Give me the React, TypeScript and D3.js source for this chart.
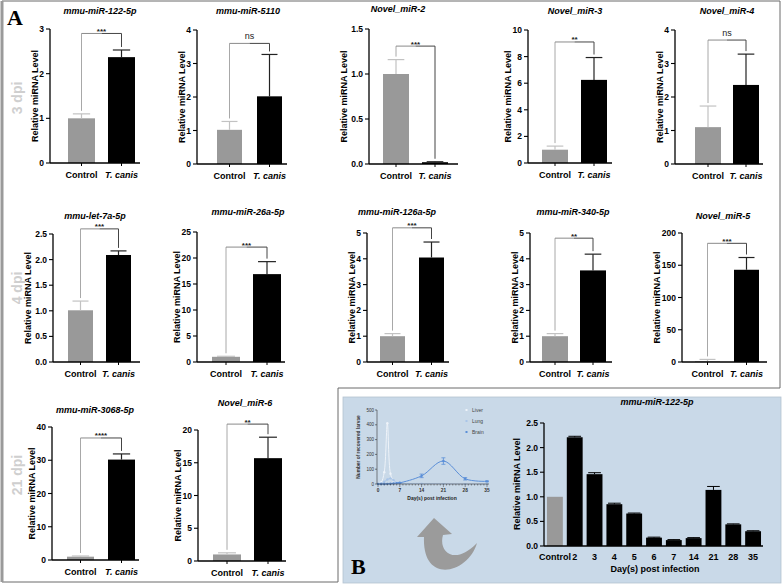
import React from 'react';
import * as d3 from 'd3';

const groups = ['Control', 'T. canis'];

// 3 dpi row
const dpi3Titles = ['mmu-miR-122-5p', 'mmu-miR-5110', 'Novel_miR-2', 'Novel_miR-3', 'Novel_miR-4'];
const dpi3Means = [[1.0, 2.37], [1.02, 2.02], [1.0, 0.02], [1.0, 6.25], [1.1, 2.36]];
const dpi3Errs = [[0.1, 0.16], [0.25, 1.25], [0.16, 0.005], [0.27, 1.68], [0.63, 0.92]];
const dpi3Max = [3, 4, 1.5, 10, 4];
const dpi3Tick = [1, 1, 0.5, 2, 1];
const dpi3Sig = ['***', 'ns', '***', '**', 'ns'];
const dpi3SigAt = [2.9, 3.6, 1.31, 9.1, 3.7];

// 4 dpi row
const dpi4Titles = ['mmu-let-7a-5p', 'mmu-miR-26a-5p', 'mmu-miR-126a-5p', 'mmu-miR-340-5p', 'Novel_miR-5'];
const dpi4Means = [[1.01, 2.09], [1.0, 16.9], [1.0, 4.05], [1.0, 3.55], [1.0, 143]];
const dpi4Errs = [[0.18, 0.08], [0.1, 2.4], [0.1, 0.6], [0.1, 0.63], [3, 19]];
const dpi4Max = [2.5, 25, 5, 5, 200];
const dpi4Tick = [0.5, 5, 1, 1, 50];
const dpi4Sig = ['***', '***', '***', '**', '***'];
const dpi4SigAt = [2.6, 22.1, 5.2, 4.8, 184];

// 21 dpi row
const dpi21Titles = ['mmu-miR-3068-5p', 'Novel_miR-6'];
const dpi21Means = [[1.0, 30.2], [1.0, 15.7]];
const dpi21Errs = [[0.2, 1.7], [0.25, 3.2]];
const dpi21Max = [40, 20];
const dpi21Tick = [10, 5];
const dpi21Sig = ['****', '**'];
const dpi21SigAt = [36.7, 20.9];

// panel B time course
const dayLabels = ['Control', '2', '3', '4', '5', '6', '7', '14', '21', '28', '35'];
const dayMeans = [1.0, 2.21, 1.46, 0.85, 0.66, 0.17, 0.12, 0.16, 1.14, 0.44, 0.3];
const dayErrs = [0, 0.02, 0.03, 0.02, 0.01, 0.01, 0.01, 0.01, 0.07, 0.01, 0.01];

// inset: recovered larvae
const larvaDays = [0, 1, 2, 3, 4, 5, 6, 7, 14, 21, 28, 35];
const liverLarvae = [0, 10, 80, 410, 70, 20, 8, 3, 1, 0, 0, 0];
const lungLarvae = [0, 3, 15, 30, 38, 25, 8, 4, 2, 1, 0, 0];
const brainLarvae = [0, 0, 0, 1, 2, 4, 6, 8, 55, 155, 35, 18];
const brainErr = [0, 0, 0, 0, 0, 0, 0, 2, 12, 22, 8, 3];
const organs = ['Liver', 'Lung', 'Brain'];

const FONT = "'Liberation Sans', Arial, sans-serif";

type Layout = { x: number; top: number; bottom: number; pad: number; bw: number; step: number; w: number; tx: number; ty: number };

const layout3: Layout[] = [
  { x: 50, top: 29, bottom: 163, pad: 18, bw: 27, step: 40, w: 90, tx: 100, ty: 14 },
  { x: 197, top: 30, bottom: 164, pad: 20, bw: 25, step: 40, w: 90, tx: 248, ty: 14 },
  { x: 369, top: 29, bottom: 164, pad: 14, bw: 26, step: 39, w: 89, tx: 398, ty: 12 },
  { x: 528, top: 30, bottom: 163, pad: 14, bw: 26, step: 39, w: 84, tx: 575, ty: 14 },
  { x: 675, top: 30, bottom: 164, pad: 20, bw: 26, step: 38, w: 88, tx: 727, ty: 14 },
];
const layout4: Layout[] = [
  { x: 53, top: 234, bottom: 362, pad: 15, bw: 25, step: 38, w: 87, tx: 95, ty: 219 },
  { x: 197, top: 232, bottom: 362, pad: 15, bw: 28, step: 41, w: 88, tx: 248, ty: 215 },
  { x: 367, top: 233, bottom: 362, pad: 13, bw: 25, step: 39, w: 82, tx: 397, ty: 215 },
  { x: 530, top: 233, bottom: 362, pad: 12, bw: 26, step: 38, w: 82, tx: 573, ty: 215 },
  { x: 682, top: 233, bottom: 362, pad: 13, bw: 25, step: 39, w: 85, tx: 723, ty: 219 },
];
const layout21: Layout[] = [
  { x: 52, top: 427, bottom: 560, pad: 15, bw: 27, step: 41, w: 87, tx: 95, ty: 413 },
  { x: 198, top: 430, bottom: 561, pad: 15, bw: 28, step: 41, w: 88, tx: 245, ty: 406 },
];

function BarPanel(props: { title: string; mean: number[]; err: number[]; max: number; tick: number; sig: string; sigAt: number; L: Layout }) {
  const { title, mean, err, max, tick, sig, sigAt, L } = props;
  const y = d3.scaleLinear().domain([0, max]).range([L.bottom, L.top]);
  const x = d3.scaleBand().domain(groups)
    .range([L.x + L.pad, L.x + L.pad + L.step + L.bw])
    .paddingInner(1 - L.bw / L.step).paddingOuter(0);
  const ticks = d3.range(0, max + tick / 2, tick);
  const fmt = tick < 1 ? d3.format('.1f') : d3.format('d');
  const chars = d3.max(ticks, t => fmt(t).length) || 1;
  const labelX = L.x - (chars * 5 + 7);
  const bw = x.bandwidth();
  const cx = (g: string) => (x(g) || 0) + bw / 2;
  const sy = y(sigAt);
  const legEnd = (i: number) => y(mean[i] + err[i]) - 3;
  const mid = (cx(groups[0]) + cx(groups[1])) / 2;
  const isNs = sig === 'ns';

  return (
    <g fontFamily={FONT}>
      <text x={L.tx} y={L.ty} textAnchor="middle" fontSize={9} fontWeight="bold" fontStyle="italic">{title}</text>
      {groups.map((g, i) => (
        <g key={g}>
          <rect x={x(g)} y={y(mean[i])} width={bw} height={L.bottom - y(mean[i])} fill={i === 0 ? '#999999' : '#000'} />
          <line x1={cx(g)} x2={cx(g)} y1={y(mean[i])} y2={y(mean[i] + err[i])} stroke={i === 0 ? '#c2c2c2' : '#222'} strokeWidth={1.2} />
          <line x1={cx(g) - bw * 0.32} x2={cx(g) + bw * 0.32} y1={y(mean[i] + err[i])} y2={y(mean[i] + err[i])} stroke={i === 0 ? '#c2c2c2' : '#222'} strokeWidth={1.2} />
          <line x1={cx(g)} x2={cx(g)} y1={L.bottom} y2={L.bottom + 3} stroke="#000" strokeWidth={1} />
          <text x={cx(g)} y={L.bottom + 15} textAnchor="middle" fontSize={9} fontWeight="bold" fontStyle={i === 1 ? 'italic' : 'normal'}>{g}</text>
        </g>
      ))}
      <line x1={L.x} x2={L.x} y1={L.top} y2={L.bottom} stroke="#000" strokeWidth={1.3} />
      <line x1={L.x} x2={L.x + L.w} y1={L.bottom} y2={L.bottom} stroke="#000" strokeWidth={1.3} />
      {ticks.map(t => (
        <g key={t}>
          <line x1={L.x - 4} x2={L.x} y1={y(t)} y2={y(t)} stroke="#000" strokeWidth={1.1} />
          <text x={L.x - 6} y={y(t) + 3} textAnchor="end" fontSize={8.5} fontWeight="bold">{fmt(t)}</text>
        </g>
      ))}
      <text transform={`translate(${labelX},${(L.top + L.bottom) / 2}) rotate(-90)`} textAnchor="middle" fontSize={9} fontWeight="bold">Relative miRNA Level</text>
      <line x1={cx(groups[0])} x2={cx(groups[0])} y1={sy} y2={legEnd(0)} stroke="#a8a8a8" strokeWidth={1} />
      <line x1={cx(groups[0])} x2={mid} y1={sy} y2={sy} stroke="#8a8a8a" strokeWidth={1} />
      <line x1={mid} x2={cx(groups[1])} y1={sy} y2={sy} stroke="#444" strokeWidth={1} />
      <line x1={cx(groups[1])} x2={cx(groups[1])} y1={sy} y2={legEnd(1)} stroke="#444" strokeWidth={1} />
      <text x={mid} y={isNs ? sy - 4 : sy + 0.5} textAnchor="middle" fontSize={isNs ? 9 : 8} fontWeight={isNs ? 'normal' : 'bold'} fill="#222">{sig}</text>
    </g>
  );
}

function TimeCourse() {
  const x = d3.scaleBand().domain(dayLabels).range([545, 763]).paddingInner(0.2).paddingOuter(0.1);
  const y = d3.scaleLinear().domain([0, 2.5]).range([546, 423]);
  const ticks = d3.range(0, 2.51, 0.5);
  const bw = x.bandwidth();
  return (
    <g fontFamily={FONT}>
      <text x={657} y={405} textAnchor="middle" fontSize={9} fontWeight="bold" fontStyle="italic">mmu-miR-122-5p</text>
      {dayLabels.map((d, i) => {
        const cx = (x(d) || 0) + bw / 2;
        return (
          <g key={d}>
            <rect x={x(d)} y={y(dayMeans[i])} width={bw} height={546 - y(dayMeans[i])} fill={i === 0 ? '#999999' : '#000'} />
            {dayErrs[i] > 0 && (
              <g stroke="#000" strokeWidth={1}>
                <line x1={cx} x2={cx} y1={y(dayMeans[i])} y2={y(dayMeans[i] + dayErrs[i])} />
                <line x1={cx - bw * 0.4} x2={cx + bw * 0.4} y1={y(dayMeans[i] + dayErrs[i])} y2={y(dayMeans[i] + dayErrs[i])} />
              </g>
            )}
            <text x={cx} y={560} textAnchor="middle" fontSize={9} fontWeight="bold">{d}</text>
          </g>
        );
      })}
      <line x1={544} x2={544} y1={423} y2={546} stroke="#000" strokeWidth={1.3} />
      <line x1={544} x2={763} y1={546} y2={546} stroke="#000" strokeWidth={1.3} />
      {ticks.map(t => (
        <g key={t}>
          <line x1={540} x2={544} y1={y(t)} y2={y(t)} stroke="#000" strokeWidth={1.1} />
          <text x={538} y={y(t) + 3} textAnchor="end" fontSize={8.5} fontWeight="bold">{d3.format('.1f')(t)}</text>
        </g>
      ))}
      <text transform="translate(520,484) rotate(-90)" textAnchor="middle" fontSize={9} fontWeight="bold">Relative miRNA Level</text>
      <text x={655} y={572} textAnchor="middle" fontSize={9} fontWeight="bold">Day(s)  post infection</text>
    </g>
  );
}

function Inset() {
  const x = d3.scaleLinear().domain([0, 35]).range([378, 487]);
  const y = d3.scaleLinear().domain([0, 500]).range([484, 410]);
  const line = d3.line<number>().x((_, i) => x(larvaDays[i])).y(v => y(v)).curve(d3.curveCatmullRom);
  const series = [liverLarvae, lungLarvae, brainLarvae];
  const colors = ['#eef3f9', '#a9c5e8', '#5b8fd8'];
  return (
    <g fontFamily={FONT}>
      {series.map((s, k) => (
        <g key={k}>
          <path d={line(s) || ''} fill="none" stroke={colors[k]} strokeWidth={1} />
          {s.map((v, i) => <circle key={i} cx={x(larvaDays[i])} cy={y(v)} r={1.2} fill={colors[k]} />)}
        </g>
      ))}
      {brainErr.map((e, i) => e > 0 && (
        <g key={i} stroke={colors[2]} strokeWidth={0.8}>
          <line x1={x(larvaDays[i])} x2={x(larvaDays[i])} y1={y(brainLarvae[i] - e)} y2={y(brainLarvae[i] + e)} />
          <line x1={x(larvaDays[i]) - 2} x2={x(larvaDays[i]) + 2} y1={y(brainLarvae[i] + e)} y2={y(brainLarvae[i] + e)} />
          <line x1={x(larvaDays[i]) - 2} x2={x(larvaDays[i]) + 2} y1={y(brainLarvae[i] - e)} y2={y(brainLarvae[i] - e)} />
        </g>
      ))}
      <line x1={377} x2={377} y1={410} y2={484} stroke="#333" strokeWidth={0.6} />
      <line x1={377} x2={489} y1={484} y2={484} stroke="#333" strokeWidth={0.6} />
      {d3.range(0, 501, 100).map(t => (
        <g key={t}>
          <line x1={375} x2={377} y1={y(t)} y2={y(t)} stroke="#333" strokeWidth={0.6} />
          <text x={374} y={y(t) + 1.5} textAnchor="end" fontSize={4.5} fill="#333">{t}</text>
        </g>
      ))}
      {d3.range(0, 36).map(d => (
        <line key={d} x1={x(d)} x2={x(d)} y1={484} y2={d % 7 === 0 ? 487 : 485.5} stroke="#333" strokeWidth={0.5} />
      ))}
      {d3.range(0, 36, 7).map(d => (
        <text key={d} x={x(d)} y={492} textAnchor="middle" fontSize={4.8} fontWeight="bold" fill="#333">{d}</text>
      ))}
      <text x={432} y={500} textAnchor="middle" fontSize={5} fontWeight="bold" fill="#222">Day(s) post infection</text>
      <text transform="translate(360,447) rotate(-90)" textAnchor="middle" fontSize={4.8} fontWeight="bold" fill="#333">Number of recovered larvae</text>
      {organs.map((o, k) => (
        <g key={o}>
          <rect x={465.5} y={409 + k * 11} width={2} height={2} fill={colors[k]} />
          <text x={472} y={412 + k * 11} fontSize={5} fill="#444">{o}</text>
        </g>
      ))}
    </g>
  );
}

export default function App() {
  const rows = [
    { titles: dpi3Titles, means: dpi3Means, errs: dpi3Errs, max: dpi3Max, tick: dpi3Tick, sig: dpi3Sig, sigAt: dpi3SigAt, layout: layout3 },
    { titles: dpi4Titles, means: dpi4Means, errs: dpi4Errs, max: dpi4Max, tick: dpi4Tick, sig: dpi4Sig, sigAt: dpi4SigAt, layout: layout4 },
    { titles: dpi21Titles, means: dpi21Means, errs: dpi21Errs, max: dpi21Max, tick: dpi21Tick, sig: dpi21Sig, sigAt: dpi21SigAt, layout: layout21 },
  ];
  return (
    <svg width={783} height={584} style={{ position: 'absolute', left: 0, top: 0, background: '#fff' }}>
      <rect x={343} y={397} width={438} height={186} fill="#c9d9e8" stroke="#b5c3d0" strokeWidth={0.8} />
      <path d="M2,1 H780 V388 H338 V582 H2 Z" fill="none" stroke="#6a6a6a" strokeWidth={1} />
      <line x1={2} x2={2} y1={1} y2={582} stroke="#9a9a9a" strokeWidth={3} />

      <text x={7} y={25} fontFamily="'Liberation Serif', 'Times New Roman', serif" fontSize={22} fontWeight="bold">A</text>
      <text x={351} y={574} fontFamily="'Liberation Serif', 'Times New Roman', serif" fontSize={22} fontWeight="bold">B</text>

      {[['3 dpi', 98], ['4 dpi', 288], ['21 dpi', 475]].map(([t, cy]) => (
        <text key={t as string} transform={`translate(22,${cy}) rotate(-90)`} textAnchor="middle" fontFamily={FONT} fontSize={14} fontWeight="bold" fill="#cfcfcf">{t}</text>
      ))}

      {rows.map((r, ri) => r.titles.map((t, i) => (
        <BarPanel key={`${ri}-${i}`} title={t} mean={r.means[i]} err={r.errs[i]} max={r.max[i]} tick={r.tick[i]} sig={r.sig[i]} sigAt={r.sigAt[i]} L={r.layout[i]} />
      )))}

      <Inset />
      <path d="M417,537 L434,518 L452,534 L443,535 C438,552 455,566 477,543 C468,574 422,585 424,537 Z" fill="#9b9b9b" />
      <TimeCourse />
    </svg>
  );
}
